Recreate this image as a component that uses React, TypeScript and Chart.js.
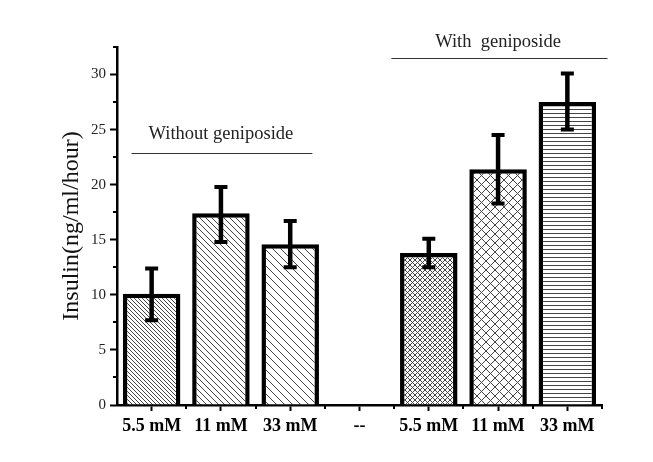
import React, { useEffect, useRef } from "react";
import { Chart, registerables } from "chart.js";

Chart.register(...registerables);

const categories = ["5.5 mM", "11 mM", "33 mM", "--", "5.5 mM", "11 mM", "33 mM"];
const insulin: (number | null)[] = [10.1, 17.4, 14.6, null, 13.8, 21.4, 27.5];
const errUpper: (number | null)[] = [12.4, 19.8, 16.7, null, 15.1, 24.5, 30.1];
const errLower: (number | null)[] = [7.7, 14.8, 12.5, null, 12.5, 18.3, 25.0];
const patterns = ["diag3", "diag5", "diag7", "none", "cross4", "cross8", "horiz"];

const groupLabels = ["Without geniposide", "With  geniposide"];
const groupLineY = [22.9, 31.5];
const groupTextY = [24.6, 32.9];
const groupStart = [-0.29, 3.46];
const groupEnd = [2.32, 6.58];
const groupCenter = [1.0, 5.0];

const yTitle = "Insulin(ng/ml/hour)";

function makePattern(kind: string): CanvasPattern | string {
  if (kind === "none") return "white";
  const c = document.createElement("canvas");
  let s = 6;
  if (kind === "diag3") s = 4;
  if (kind === "diag5") s = 6;
  if (kind === "diag7") s = 8;
  if (kind === "cross4") s = 5;
  if (kind === "cross8") s = 9;
  if (kind === "horiz") s = 4;
  c.width = s;
  c.height = s;
  const g = c.getContext("2d")!;
  g.fillStyle = "white";
  g.fillRect(0, 0, s, s);
  g.strokeStyle = "#444";
  g.lineWidth = 1;
  const back = () => {
    g.beginPath();
    g.moveTo(-1, -1); g.lineTo(s + 1, s + 1);
    g.moveTo(s - 1, -1); g.lineTo(s + 1, 1);
    g.moveTo(-1, s - 1); g.lineTo(1, s + 1);
    g.stroke();
  };
  const fwd = () => {
    g.beginPath();
    g.moveTo(-1, s + 1); g.lineTo(s + 1, -1);
    g.moveTo(-1, 1); g.lineTo(1, -1);
    g.moveTo(s - 1, s + 1); g.lineTo(s + 1, s - 1);
    g.stroke();
  };
  if (kind.startsWith("diag")) back();
  if (kind.startsWith("cross")) { back(); fwd(); }
  if (kind === "horiz") {
    g.beginPath();
    g.moveTo(0, 1.5); g.lineTo(s, 1.5);
    g.stroke();
  }
  return g.createPattern(c, "repeat")!;
}

const extrasPlugin = {
  id: "extras",
  afterDatasetsDraw(chart: any) {
    const ctx = chart.ctx;
    const x = chart.scales.x;
    const y = chart.scales.y;
    ctx.save();
    // error bars
    ctx.strokeStyle = "black";
    for (let i = 0; i < insulin.length; i++) {
      const hi = errUpper[i], lo = errLower[i];
      if (hi == null || lo == null) continue;
      const px = x.getPixelForValue(i);
      const yh = y.getPixelForValue(hi);
      const yl = y.getPixelForValue(lo);
      ctx.lineWidth = 4.5;
      ctx.beginPath();
      ctx.moveTo(px, yh); ctx.lineTo(px, yl);
      ctx.stroke();
      ctx.lineWidth = 4;
      ctx.beginPath();
      ctx.moveTo(px - 6.5, yh); ctx.lineTo(px + 6.5, yh);
      ctx.moveTo(px - 6.5, yl); ctx.lineTo(px + 6.5, yl);
      ctx.stroke();
    }
    // group annotations
    ctx.lineWidth = 1;
    ctx.strokeStyle = "#333";
    ctx.fillStyle = "#222";
    ctx.font = "18.5px 'Liberation Serif', serif";
    ctx.textAlign = "center";
    ctx.textBaseline = "middle";
    const step = x.getPixelForValue(1) - x.getPixelForValue(0);
    for (let g = 0; g < groupLabels.length; g++) {
      const x0 = x.getPixelForValue(0) + groupStart[g] * step;
      const x1 = x.getPixelForValue(0) + groupEnd[g] * step;
      const ly = Math.round(y.getPixelForValue(groupLineY[g])) + 0.5;
      ctx.beginPath();
      ctx.moveTo(x0, ly); ctx.lineTo(x1, ly);
      ctx.stroke();
      ctx.fillText(groupLabels[g], x.getPixelForValue(0) + groupCenter[g] * step, y.getPixelForValue(groupTextY[g]));
    }
    // minor ticks
    ctx.strokeStyle = "black";
    ctx.lineWidth = 2;
    ctx.beginPath();
    for (let v = 2.5; v <= y.max; v += 5) {
      const py = Math.round(y.getPixelForValue(v));
      ctx.moveTo(x.left, py); ctx.lineTo(x.left - 4, py);
    }
    for (let i = 1; i <= categories.length; i++) {
      const px = Math.round(x.getPixelForValue(0) + (i - 0.5) * step);
      ctx.moveTo(px, y.bottom); ctx.lineTo(px, y.bottom + 4);
    }
    ctx.stroke();
    ctx.restore();
  },
};

export default function App() {
  const ref = useRef<HTMLCanvasElement>(null);
  useEffect(() => {
    document.body.style.margin = "0";
    const chart = new Chart(ref.current!, {
      type: "bar",
      data: {
        labels: categories,
        datasets: [
          {
            data: insulin as any,
            backgroundColor: patterns.map(makePattern) as any,
            borderColor: "black",
            borderWidth: 4.5,
            borderSkipped: "bottom",
            categoryPercentage: 1,
            barPercentage: 0.83,
          },
        ],
      },
      options: {
        animation: false,
        responsive: false,
        devicePixelRatio: 1,
        layout: { padding: { left: 57, right: 51, top: 47, bottom: 0 } },
        plugins: { legend: { display: false }, tooltip: { enabled: false } },
        scales: {
          x: {
            offset: true,
            grid: { display: true, drawOnChartArea: false, offset: false, tickLength: 6, color: "black", tickWidth: 2 },
            border: { color: "black", width: 2.5 },
            ticks: {
              color: "black",
              padding: 5,
              font: { family: "'Liberation Serif', serif", size: 18, weight: "bold" },
              maxRotation: 0,
              autoSkip: false,
            },
            afterFit: (s: any) => { s.height = 57; },
          },
          y: {
            min: 0,
            max: 32.5,
            grid: { display: true, drawOnChartArea: false, tickLength: 7, color: "black", tickWidth: 2 },
            border: { color: "black", width: 2.5 },
            ticks: {
              stepSize: 5,
              color: "#222",
              padding: 4,
              font: { family: "'Liberation Serif', serif", size: 15 },
              callback: (v: any) => (Number(v) % 5 === 0 ? String(v) : null),
            },
            title: {
              display: true,
              text: yTitle,
              color: "#111",
              font: { family: "'Liberation Serif', serif", size: 24 },
              padding: { top: 0, bottom: 2 },
            },
            afterFit: (s: any) => { s.width = 60; },
          },
        },
      },
      plugins: [extrasPlugin],
    });
    return () => chart.destroy();
  }, []);
  return (
    <div style={{ width: 653, height: 462, background: "white" }}>
      <canvas ref={ref} width={653} height={462} />
    </div>
  );
}
